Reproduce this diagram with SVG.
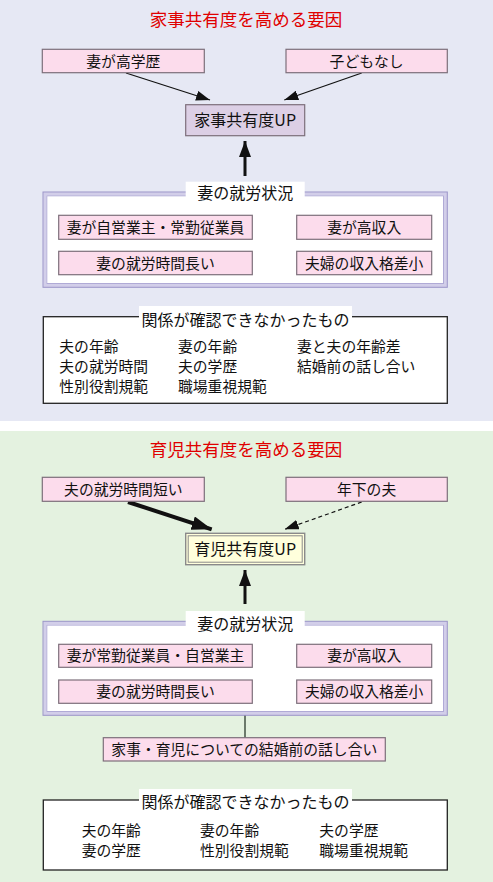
<svg xmlns="http://www.w3.org/2000/svg" width="493" height="882" viewBox="0 0 493 882">
<defs>
<style>
text{font-family:"Noto Sans CJK JP","Noto Sans CJK SC",sans-serif;fill:#111}
.t{font-size:17.5px;fill:#e00000;text-anchor:middle}
.b{font-size:14.8px;text-anchor:middle}
.n{font-size:16px;text-anchor:middle}
.lb{font-size:16px;text-anchor:middle}
.it{font-size:14.8px}
.pk{fill:#fcdcec;stroke:#7d6f7b;stroke-width:1.2}
.grp{fill:#fff;stroke:#d2cee9;stroke-width:3}
.grpo{fill:none;stroke:#9a93c8;stroke-width:1}
.grpi{fill:none;stroke:#b0aad6;stroke-width:1}
.nc{fill:#fff;stroke:#222;stroke-width:1.3}
.wb{fill:#fff}
</style>
<marker id="ah" markerWidth="14" markerHeight="10" viewBox="0 0 14 10" refX="14" refY="5" orient="auto" markerUnits="userSpaceOnUse"><path d="M0,0L14,5L0,10z" fill="#111"/></marker>
<marker id="ahb" markerWidth="20" markerHeight="14" viewBox="0 0 20 14" refX="20" refY="7" orient="auto" markerUnits="userSpaceOnUse"><path d="M0,0L20,7L0,14z" fill="#111"/></marker>
<marker id="ahu" markerWidth="16" markerHeight="12" viewBox="0 0 16 12" refX="16" refY="6" orient="auto" markerUnits="userSpaceOnUse"><path d="M0,0L16,6L0,12z" fill="#111"/></marker>
</defs>
<rect x="0" y="0" width="493" height="421" fill="#e6e8f4"/>
<rect x="0" y="421" width="493" height="10" fill="#fff"/>
<rect x="0" y="431" width="493" height="451" fill="#e4f2e0"/>

<text class="t" x="246" y="26">家事共有度を高める要因</text>
<text class="t" x="246" y="455.5">育児共有度を高める要因</text>

<g id="connectors">
<line x1="126" y1="73" x2="210" y2="100" stroke="#111" stroke-width="1.2" marker-end="url(#ah)"/>
<line x1="361.7" y1="73" x2="284.3" y2="100" stroke="#111" stroke-width="1.2" marker-end="url(#ah)"/>
<line x1="245" y1="176" x2="245" y2="141" stroke="#111" stroke-width="3" marker-end="url(#ahu)"/>
<line x1="128" y1="502" x2="211.7" y2="529.3" stroke="#111" stroke-width="4" marker-end="url(#ahb)"/>
<line x1="361.7" y1="502" x2="284.7" y2="529.3" stroke="#111" stroke-width="1.2" stroke-dasharray="4,3" marker-end="url(#ah)"/>
<line x1="245" y1="604" x2="245" y2="570" stroke="#111" stroke-width="3" marker-end="url(#ahu)"/>
<line x1="245" y1="715" x2="245" y2="737.7" stroke="#6b7a6b" stroke-width="2"/>
</g>

<g id="n-koukgakureki"><rect class="pk" x="42.3" y="49.3" width="162" height="23.4"/><text class="b" x="123.3" y="66.5">妻が高学歴</text></g>
<g id="n-kodomonashi"><rect class="pk" x="286" y="49.3" width="161.3" height="23.4"/><text class="b" x="366.6" y="66.5">子どもなし</text></g>
<g id="n-kaji-up"><rect x="185.7" y="104.7" width="119" height="31" fill="#dccfe5" stroke="#7d6f7b" stroke-width="1.2"/><text class="n" x="245.2" y="125.8">家事共有度UP</text></g>

<g id="g-shuro1">
<rect class="grp" x="44.8" y="193.8" width="400.7" height="91.7"/>
<rect class="grpo" x="43" y="192" width="404.3" height="95.3"/>
<rect class="grpi" x="46.8" y="195.8" width="396.7" height="87.7"/>
<rect class="wb" x="185.7" y="181.7" width="119" height="17"/>
<text class="lb" x="245.2" y="199">妻の就労状況</text>
</g>
<g id="n-jiei1"><rect class="pk" x="58.7" y="215.3" width="193.6" height="24"/><text class="b" x="155.5" y="232.8">妻が自営業主・常勤従業員</text></g>
<g id="n-koshunyu1"><rect class="pk" x="296.7" y="215.3" width="135" height="24"/><text class="b" x="364.2" y="232.8">妻が高収入</text></g>
<g id="n-nagai1"><rect class="pk" x="58.7" y="251.3" width="193.6" height="23.4"/><text class="b" x="155.5" y="268.5">妻の就労時間長い</text></g>
<g id="n-kakusa1"><rect class="pk" x="296.7" y="251.3" width="135" height="23.4"/><text class="b" x="364.2" y="268.5">夫婦の収入格差小</text></g>

<g id="g-none1">
<rect class="nc" x="43.3" y="316.7" width="404" height="86.6"/>
<rect class="wb" x="139" y="306" width="213" height="22"/>
<text class="lb" x="245.5" y="325.5">関係が確認できなかったもの</text>
<text class="it" x="59.3" y="352">夫の年齢</text>
<text class="it" x="178" y="352">妻の年齢</text>
<text class="it" x="297" y="352">妻と夫の年齢差</text>
<text class="it" x="59.3" y="372">夫の就労時間</text>
<text class="it" x="178" y="372">夫の学歴</text>
<text class="it" x="297" y="372">結婚前の話し合い</text>
<text class="it" x="59.3" y="392">性別役割規範</text>
<text class="it" x="178" y="392">職場重視規範</text>
</g>

<g id="n-mijikai"><rect class="pk" x="42.3" y="477.3" width="162" height="24"/><text class="b" x="123.3" y="494.8">夫の就労時間短い</text></g>
<g id="n-toshishita"><rect class="pk" x="286" y="477.3" width="161.3" height="24"/><text class="b" x="366.6" y="494.8">年下の夫</text></g>
<g id="n-ikuji-up">
<rect x="185.7" y="533.3" width="119" height="31.4" fill="#ffffdc" stroke="#8a8a8a" stroke-width="1.4"/>
<rect x="188.2" y="535.8" width="114" height="26.4" fill="none" stroke="#8a8a8a" stroke-width="1"/>
<text class="n" x="245.2" y="554.8">育児共有度UP</text>
</g>

<g id="g-shuro2">
<rect class="grp" x="44.8" y="623.1" width="400.7" height="90.4"/>
<rect class="grpo" x="43" y="621.3" width="404.3" height="94"/>
<rect class="grpi" x="46.8" y="625.1" width="396.7" height="86.4"/>
<rect class="wb" x="185.7" y="611" width="119" height="17"/>
<text class="lb" x="245.2" y="630">妻の就労状況</text>
</g>
<g id="n-jiei2"><rect class="pk" x="58.7" y="644.3" width="193.6" height="23"/><text class="b" x="155.5" y="661.3">妻が常勤従業員・自営業主</text></g>
<g id="n-koshunyu2"><rect class="pk" x="296.7" y="644.3" width="135" height="23"/><text class="b" x="364.2" y="661.3">妻が高収入</text></g>
<g id="n-nagai2"><rect class="pk" x="58.7" y="680" width="193.6" height="23.3"/><text class="b" x="155.5" y="697.2">妻の就労時間長い</text></g>
<g id="n-kakusa2"><rect class="pk" x="296.7" y="680" width="135" height="23.3"/><text class="b" x="364.2" y="697.2">夫婦の収入格差小</text></g>

<g id="n-hanashiai"><rect class="pk" x="103.3" y="737.7" width="282" height="23.3"/><text class="b" x="244.3" y="754.8">家事・育児についての結婚前の話し合い</text></g>

<g id="g-none2">
<rect class="nc" x="43.3" y="800" width="404" height="70"/>
<rect class="wb" x="139" y="789" width="213" height="22"/>
<text class="lb" x="245.5" y="807.5">関係が確認できなかったもの</text>
<text class="it" x="81.7" y="836">夫の年齢</text>
<text class="it" x="200" y="836">妻の年齢</text>
<text class="it" x="319.3" y="836">夫の学歴</text>
<text class="it" x="81.7" y="856">妻の学歴</text>
<text class="it" x="200" y="856">性別役割規範</text>
<text class="it" x="319.3" y="856">職場重視規範</text>
</g>
</svg>
